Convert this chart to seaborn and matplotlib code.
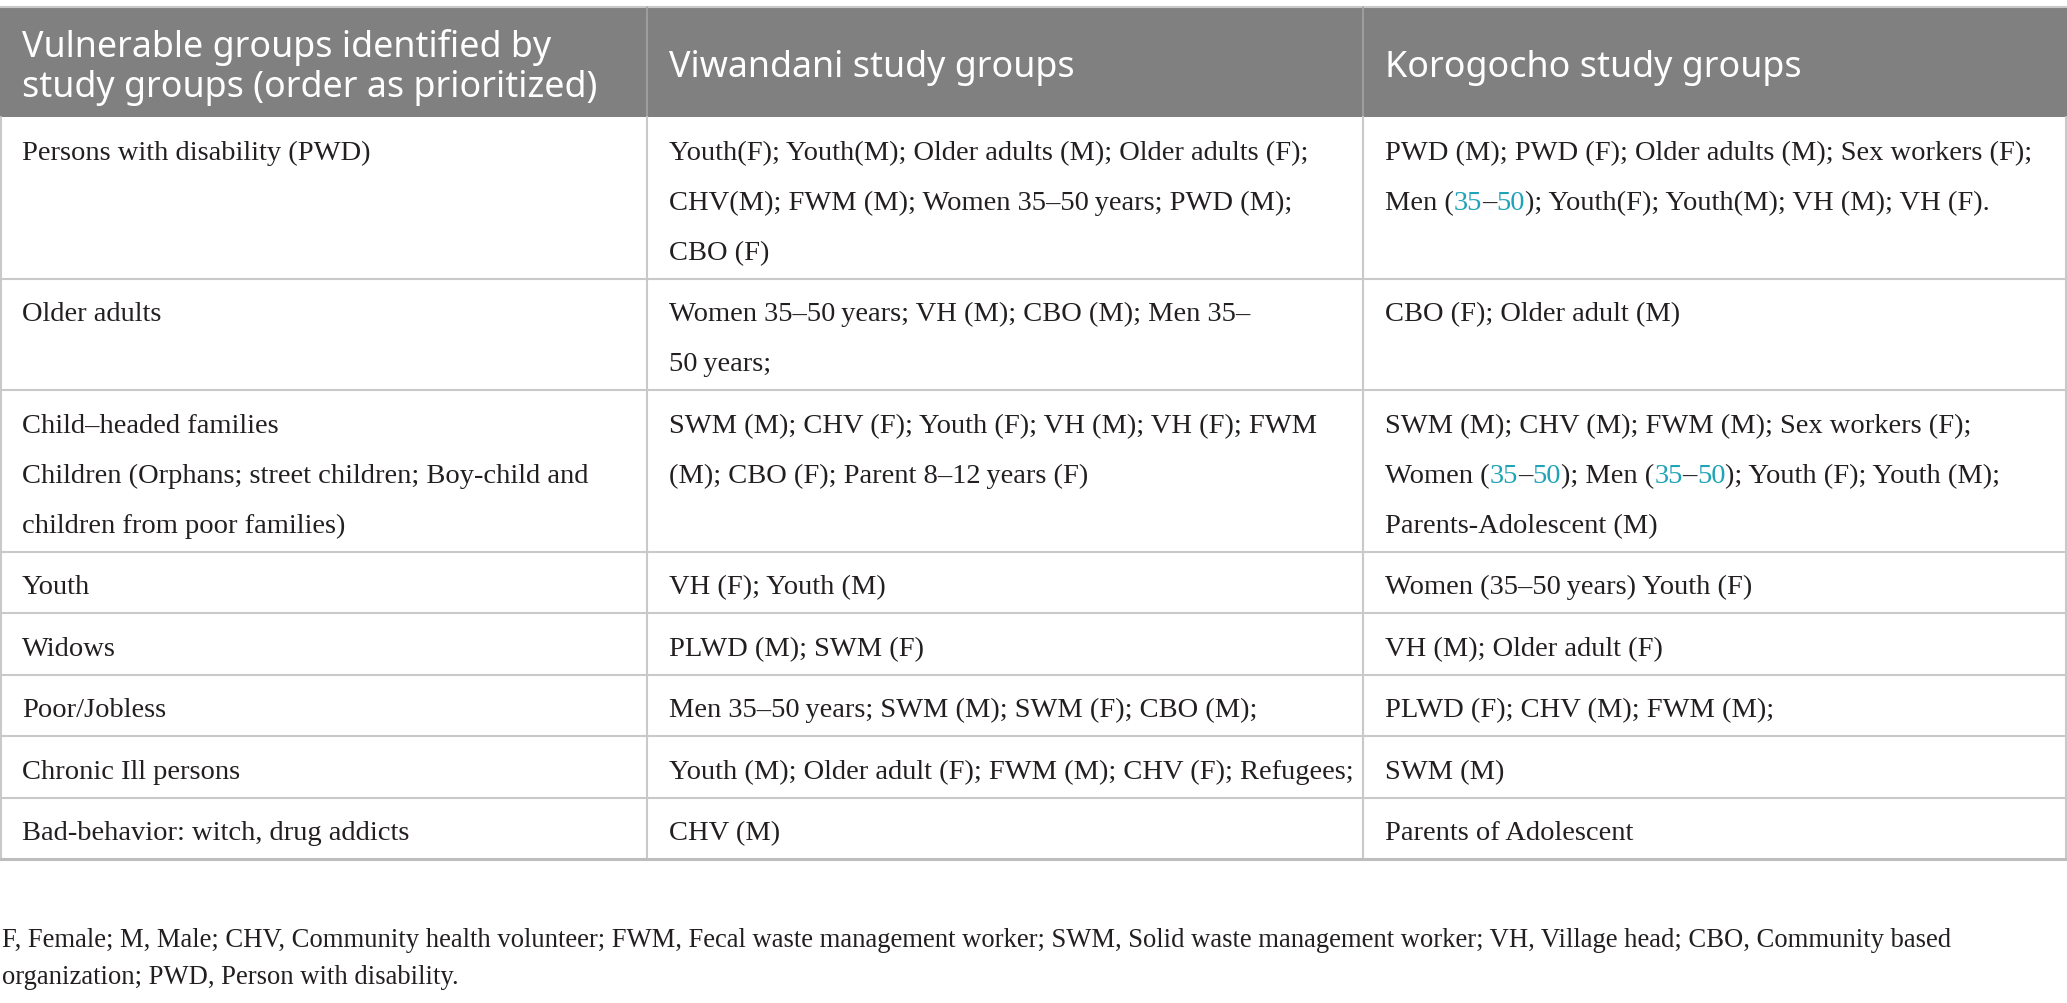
import matplotlib
matplotlib.use("Agg")
import matplotlib.pyplot as plt
import seaborn as sns

# ---------------- data ----------------
headers = [
    ["Vulnerable groups identified by", "study groups (order as prioritized)"],
    ["Viwandani study groups"],
    ["Korogocho study groups"],
]

# {..} marks text drawn in the highlight (teal) colour
vulnerable_groups = [
    ["Persons with disability (PWD)"],
    ["Older adults"],
    ["Child\u2013headed families",
     "Children (Orphans; street children; Boy-child and",
     "children from poor families)"],
    ["Youth"],
    ["Widows"],
    ["Poor/Jobless"],
    ["Chronic Ill persons"],
    ["Bad-behavior: witch, drug addicts"],
]

viwandani = [
    ["Youth(F); Youth(M); Older adults (M); Older adults (F);",
     "CHV(M); FWM (M); Women 35\u201350\u2009years; PWD (M);",
     "CBO (F)"],
    ["Women 35\u201350\u2009years; VH (M); CBO (M); Men 35\u2013",
     "50\u2009years;"],
    ["SWM (M); CHV (F); Youth (F); VH (M); VH (F); FWM",
     "(M); CBO (F); Parent 8\u201312\u2009years (F)"],
    ["VH (F); Youth (M)"],
    ["PLWD (M); SWM (F)"],
    ["Men 35\u201350\u2009years; SWM (M); SWM (F); CBO (M);"],
    ["Youth (M); Older adult (F); FWM (M); CHV (F); Refugees;"],
    ["CHV (M)"],
]

korogocho = [
    ["PWD (M); PWD (F); Older adults (M); Sex workers (F);",
     "Men ({35}\u2013{50}); Youth(F); Youth(M); VH (M); VH (F)."],
    ["CBO (F); Older adult (M)"],
    ["SWM (M); CHV (M); FWM (M); Sex workers (F);",
     "Women ({35}\u2013{50}); Men ({35}\u2013{50}); Youth (F); Youth (M);",
     "Parents-Adolescent (M)"],
    ["Women (35\u201350\u2009years) Youth (F)"],
    ["VH (M); Older adult (F)"],
    ["PLWD (F); CHV (M); FWM (M);"],
    ["SWM (M)"],
    ["Parents of Adolescent"],
]

footnote = [
    "F, Female; M, Male; CHV, Community health volunteer; FWM, Fecal waste management worker; "
    "SWM, Solid waste management worker; VH, Village head; CBO, Community based",
    "organization; PWD, Person with disability.",
]

# ---------------- style ----------------
sns.set_theme(style="white")
plt.rcParams["font.family"] = ["Liberation Serif", "DejaVu Serif"]

W, H = 2067, 1004
HEADER_BG = "#7f807f"
GRID = "#c9c9c9"
TEXT = "#231f20"
TEAL = "#1fa3b7"
BODY_FS = 20.5
FOOT_FS = 19.2
HEAD_FS = 25.8
BODY_FONT = ["Liberation Serif", "DejaVu Serif"]
HEAD_FONT = ["Noto Sans", "DejaVu Sans"]

col_x = [0, 647, 1363, W]
text_pad = 22
header_top, header_bot = 8, 118
single_row_h = 61.5
line_step = 50
first_base = 42

fig = plt.figure(figsize=(W / 100, H / 100), dpi=100)
ax = fig.add_axes([0, 0, 1, 1])
ax.set_xlim(0, W)
ax.set_ylim(H, 0)
ax.axis("off")
renderer = fig.canvas.get_renderer()

# header background
ax.fill_between([0, W], header_top, header_bot, color=HEADER_BG, lw=0, zorder=1)
ax.plot([0, W], [header_top, header_top], color=GRID, lw=1.5, zorder=2)
for cx in col_x[1:-1]:
    ax.plot([cx, cx], [header_top, header_bot], color="#a3a3a3", lw=1.2, zorder=2)

head_base = 77
head_step = 41
for ci, lines in enumerate(headers):
    n = len(lines)
    for li, line in enumerate(lines):
        y = head_base + (li - (n - 1) / 2) * head_step
        ax.text(col_x[ci] + text_pad, y, line, fontsize=HEAD_FS, color="white",
                family=HEAD_FONT, va="baseline", ha="left", zorder=3)


def draw_rich(x, y, line, fs):
    """Draw a line with {..} segments in teal, sequentially."""
    segs = []
    buf = ""
    hl = False
    for ch in line:
        if ch == "{":
            if buf:
                segs.append((buf, False))
            buf, hl = "", True
        elif ch == "}":
            segs.append((buf, True))
            buf, hl = "", False
        else:
            buf += ch
    if buf:
        segs.append((buf, hl))
    inv = ax.transData.inverted()
    cur = x
    for s, is_hl in segs:
        t = ax.text(cur, y, s, fontsize=fs, color=TEAL if is_hl else TEXT,
                    family=BODY_FONT, va="baseline", ha="left", zorder=3)
        bb = t.get_window_extent(renderer)
        cur = inv.transform((bb.x1, bb.y0))[0]


# body rows
top = header_bot
columns = [vulnerable_groups, viwandani, korogocho]
for ri in range(len(vulnerable_groups)):
    n = max(len(c[ri]) for c in columns)
    h = single_row_h + line_step * (n - 1)
    for ci, col in enumerate(columns):
        for li, line in enumerate(col[ri]):
            draw_rich(col_x[ci] + text_pad, top + first_base + li * line_step, line, BODY_FS)
    for cx in col_x:
        xx = min(max(cx, 0.8), W - 0.8)
        ax.plot([xx, xx], [top, top + h], color=GRID, lw=1.5, zorder=2)
    bottom = top + h
    last = ri == len(vulnerable_groups) - 1
    ax.plot([0, W], [bottom, bottom], color="#bdbdbd" if last else GRID,
            lw=2.2 if last else 1.5, zorder=2)
    top = bottom

# footnote
for li, line in enumerate(footnote):
    ax.text(2, 947 + li * 37, line, fontsize=FOOT_FS, color=TEXT,
            family=BODY_FONT, va="baseline", ha="left")

fig.savefig("out.png", dpi=100, facecolor="white")
